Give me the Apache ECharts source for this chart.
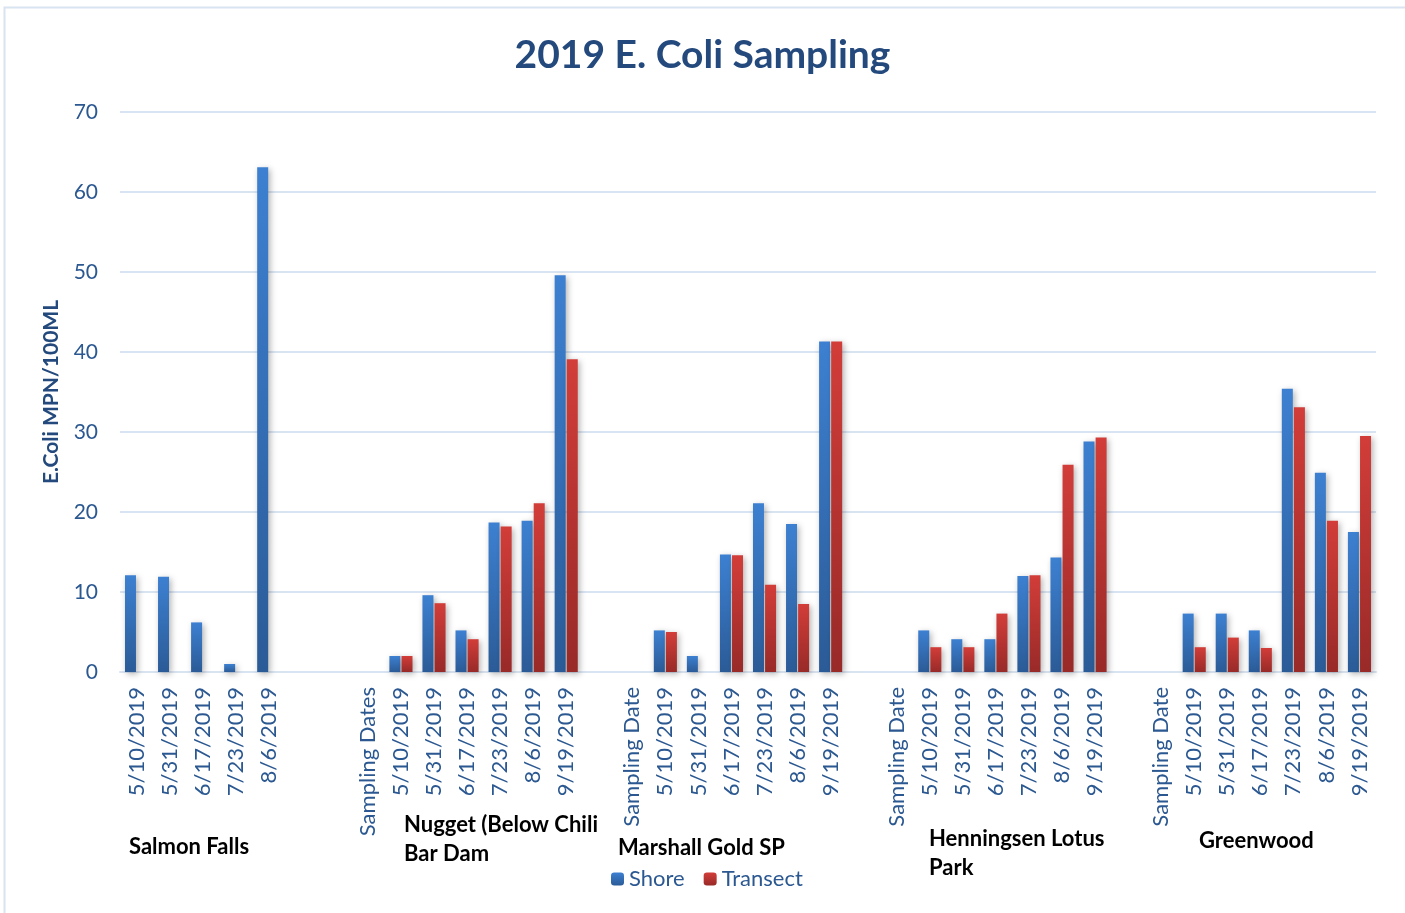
<!DOCTYPE html>
<html>
<head>
<meta charset="utf-8">
<title>2019 E. Coli Sampling</title>
<script src="https://cdn.jsdelivr.net/npm/echarts@6/dist/echarts.min.js"></script>
<style>
  html, body { margin: 0; padding: 0; background: #fff; }
  #main { width: 1405px; height: 913px; }
</style>
</head>
<body>
<div id="main"></div>
<script>
// x categories (blank slots separate the sites)
var categories = [
  "5/10/2019", "5/31/2019", "6/17/2019", "7/23/2019", "8/6/2019", "", "", "Sampling Dates",
  "5/10/2019", "5/31/2019", "6/17/2019", "7/23/2019", "8/6/2019", "9/19/2019", "", "Sampling Date",
  "5/10/2019", "5/31/2019", "6/17/2019", "7/23/2019", "8/6/2019", "9/19/2019", "", "Sampling Date",
  "5/10/2019", "5/31/2019", "6/17/2019", "7/23/2019", "8/6/2019", "9/19/2019", "", "Sampling Date",
  "5/10/2019", "5/31/2019", "6/17/2019", "7/23/2019", "8/6/2019", "9/19/2019"
];

var shore = [
  12.1, 11.9, 6.2, 1.0, 63.1, null, null, null,
  2.0, 9.6, 5.2, 18.7, 18.9, 49.6, null, null,
  5.2, 2.0, 14.7, 21.1, 18.5, 41.3, null, null,
  5.2, 4.1, 4.1, 12.0, 14.3, 28.8, null, null,
  7.3, 7.3, 5.2, 35.4, 24.9, 17.5
];

var transect = [
  null, null, null, null, null, null, null, null,
  2.0, 8.6, 4.1, 18.2, 21.1, 39.1, null, null,
  5.0, null, 14.6, 10.9, 8.5, 41.3, null, null,
  3.1, 3.1, 7.3, 12.1, 25.9, 29.3, null, null,
  3.1, 4.3, 3.0, 33.1, 18.9, 29.5
];

var yTicks = [0, 10, 20, 30, 40, 50, 60, 70];

// site names under the date labels
var sites = ["Salmon Falls", "Nugget (Below Chili\nBar Dam", "Marshall Gold SP", "Henningsen Lotus\nPark", "Greenwood"];
var sitePos = [[129, 832], [404, 810], [618, 833], [929, 824], [1199, 826]];

var fontFam = "Lato, 'Open Sans', sans-serif";
var blueText = "#2B5891";

var chart = echarts.init(document.getElementById("main"));

function grad(top, bottom) {
  return new echarts.graphic.LinearGradient(0, 0, 0, 1, [
    { offset: 0, color: top },
    { offset: 1, color: bottom }
  ]);
}

var graphics = [{
  type: "rect",
  shape: { x: 4.5, y: 7.5, width: 1420, height: 920 },
  style: { fill: "none", stroke: "#D9E4F2", lineWidth: 2 },
  silent: true
}];
sites.forEach(function (s, i) {
  graphics.push({
    type: "text",
    left: sitePos[i][0],
    top: sitePos[i][1],
    style: { text: s, font: "bold 22px " + fontFam, fill: "#000", lineHeight: 29 }
  });
});

var option = {
  backgroundColor: "#fff",
  animation: false,
  title: {
    text: "2019 E. Coli Sampling",
    left: "center",
    top: 31,
    textStyle: { fontFamily: fontFam, fontSize: 39, fontWeight: "bold", color: "#23497D" }
  },
  legend: {
    data: ["Shore", "Transect"],
    left: 606,
    top: 863,
    itemWidth: 13,
    itemHeight: 13,
    itemGap: 19,
    textStyle: { fontFamily: fontFam, fontSize: 22, color: blueText, padding: [0, 0, 0, 0] }
  },
  grid: { left: 120, right: 29, top: 112, bottom: 241, containLabel: false },
  xAxis: {
    type: "category",
    data: categories,
    axisTick: { show: false },
    axisLine: { lineStyle: { color: "#D9E4F2", width: 2 } },
    axisLabel: {
      interval: 0,
      rotate: 90,
      margin: 15,
      fontFamily: fontFam,
      fontSize: 22,
      color: blueText
    }
  },
  yAxis: {
    type: "value",
    min: 0,
    max: 70,
    interval: 10,
    name: "E.Coli MPN/100ML",
    nameLocation: "middle",
    nameGap: 58,
    nameTextStyle: { fontFamily: fontFam, fontSize: 21, fontWeight: "bold", color: "#23497D" },
    axisLabel: {
      fontFamily: fontFam,
      fontSize: 21,
      color: blueText,
      margin: 22,
      formatter: function (v) { return yTicks.indexOf(v) >= 0 ? String(v) : ""; }
    },
    splitLine: { lineStyle: { color: "#D9E4F2", width: 2 } }
  },
  series: [
    {
      name: "Shore",
      type: "bar",
      data: shore,
      barWidth: 11,
      barGap: "10%",
      itemStyle: {
        color: grad("#3D80D1", "#2B5B97"),
        shadowBlur: 6,
        shadowColor: "rgba(0,0,0,0.3)",
        shadowOffsetX: 2,
        shadowOffsetY: 2
      }
    },
    {
      name: "Transect",
      type: "bar",
      data: transect,
      barWidth: 11,
      itemStyle: {
        color: grad("#D23D39", "#982A28"),
        shadowBlur: 6,
        shadowColor: "rgba(0,0,0,0.3)",
        shadowOffsetX: 2,
        shadowOffsetY: 2
      }
    }
  ],
  graphic: graphics
};

chart.setOption(option);
</script>
</body>
</html>
